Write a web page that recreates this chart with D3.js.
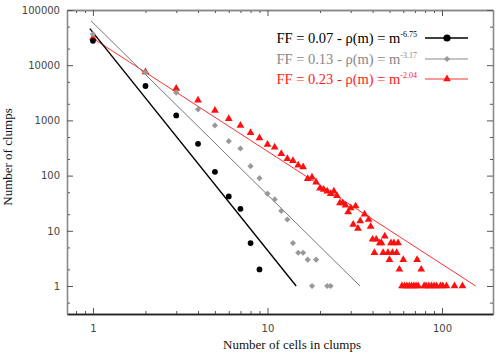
<!DOCTYPE html>
<html>
<head>
<meta charset="utf-8">
<script src="https://cdn.jsdelivr.net/npm/d3@7"></script>
<style>
  body { margin: 0; background: #fff; }
  .tick text { font-family: "DejaVu Sans", sans-serif; font-size: 10px; fill: #444; }
  .title { font-family: "Liberation Serif", "Times New Roman", serif; font-size: 13px; fill: #111; }
  .legend { font-family: "Liberation Serif", "Times New Roman", serif; font-size: 14.5px; }
</style>
</head>
<body>
<div id="chart"></div>
<script>
// cluster size distributions (cells per clump -> number of clumps)
var ff07x = [1, 2, 3, 4, 5, 6, 7, 8, 9];
var ff07y = [27600, 4200, 1230, 377, 117, 42, 25, 6, 2];

var ff13x = [1, 2, 3, 4, 5, 6, 7, 8, 9, 10, 11, 12, 13, 14, 15, 16, 17, 18, 19, 22, 23];
var ff13y = [36500, 7400, 3190, 1585, 811, 420, 310, 148, 90, 47, 37, 23, 16, 6, 4, 4, 3, 1, 3, 1, 1];

var ff23x = [1, 2, 3, 4, 5, 6, 7, 8, 9, 10, 11, 12, 13, 14, 15, 16, 17, 18, 19, 20,
             21, 22, 23, 24, 25, 26, 27, 28, 29, 30, 31, 32, 33, 34, 36, 38, 39, 40, 41, 42,
             44, 45, 46, 47, 49, 50, 51, 52, 53, 55, 56, 57, 59, 60, 61, 63, 65, 67, 69, 71,
             72, 73, 76, 79, 81, 84, 87, 90, 93, 98, 101, 106, 118, 131];
var ff23y = [31000, 7550, 3770, 2310, 1515, 1070, 811, 597, 480, 366, 327, 248, 202, 186, 154, 143, 88, 93, 76, 59,
             56, 52, 47, 52, 43, 32, 32, 29, 22, 26, 13, 28, 11, 15, 20, 16, 12, 7, 4, 7,
             6, 6, 4, 8, 4, 3, 6, 4, 6, 4, 6, 2, 1, 3, 1, 1, 1, 1, 1, 1,
             3, 1, 2, 1, 1, 1, 1, 1, 1, 1, 1, 1, 1, 1];

// power-law fit lines, start and end points [x, y]
var fit07 = [[0.96, 46000], [14.6, 1.0]];
var fit13 = [[0.974, 63800], [33.9, 1.0]];
var fit23 = [[0.974, 32300], [156, 1.0]];

var labels07 = ["FF = 0.07 - ρ(m) = m", "-6.75"];
var labels13 = ["FF = 0.13 - ρ(m) = m", "-3.17"];
var labels23 = ["FF = 0.23 - ρ(m) = m", "-2.04"];

var xMajor = [1, 10, 100];
var yMajor = [1, 10, 100, 1000, 10000, 100000];

var width = 501;
var height = 357;
var margin = {top: 10, right: 8, bottom: 43, left: 67};
var w = width - margin.left - margin.right;
var h = height - margin.top - margin.bottom;

var svg = d3.select("#chart").append("svg")
    .attr("width", width)
    .attr("height", height)
  .append("g")
    .attr("transform", "translate(" + margin.left + "," + margin.top + ")");

var x = d3.scaleLog()
    .domain([0.71, 196])
    .range([0, w]);

var y = d3.scaleLog()
    .domain([0.311, 100000])
    .range([h, 0]);

// minor ticks
var xMinor = [];
[0.1, 1, 10, 100].forEach(function(d) {
  for (var k = 2; k <= 9; k++) {
    var v = d * k;
    if (v > x.domain()[0] && v < x.domain()[1]) xMinor.push(v);
  }
});
var yMinor = [];
[0.1, 1, 10, 100, 1000, 10000].forEach(function(d) {
  [2, 5].forEach(function(k) {
    var v = d * k;
    if (v > y.domain()[0] && v < y.domain()[1]) yMinor.push(v);
  });
});

function styleAxis(g, col) {
  g.select(".domain").attr("stroke", col).attr("stroke-width", 1.3);
  g.selectAll(".tick line").attr("stroke", "#555");
}

// minor tick axes
svg.append("g").attr("transform", "translate(0," + h + ")")
    .call(d3.axisBottom(x).tickValues(xMinor).tickSize(-3).tickFormat("").tickSizeOuter(0))
    .call(styleAxis, "#222");
svg.append("g")
    .call(d3.axisTop(x).tickValues(xMinor).tickSize(-3).tickFormat("").tickSizeOuter(0))
    .call(styleAxis, "#888");
svg.append("g")
    .call(d3.axisLeft(y).tickValues(yMinor).tickSize(-3).tickFormat("").tickSizeOuter(0))
    .call(styleAxis, "#888");
svg.append("g").attr("transform", "translate(" + w + ",0)")
    .call(d3.axisRight(y).tickValues(yMinor).tickSize(-3).tickFormat("").tickSizeOuter(0))
    .call(styleAxis, "#888");

// major tick axes
svg.append("g").attr("transform", "translate(0," + h + ")")
    .call(d3.axisBottom(x).tickValues(xMajor).tickSize(-6).tickPadding(11)
      .tickFormat(d3.format("d")).tickSizeOuter(0))
    .call(styleAxis, "#222");
svg.append("g")
    .call(d3.axisTop(x).tickValues(xMajor).tickSize(-6).tickFormat("").tickSizeOuter(0))
    .call(styleAxis, "#888");
svg.append("g")
    .call(d3.axisLeft(y).tickValues(yMajor).tickSize(-6).tickPadding(7)
      .tickFormat(d3.format("d")).tickSizeOuter(0))
    .call(styleAxis, "#888");
svg.append("g").attr("transform", "translate(" + w + ",0)")
    .call(d3.axisRight(y).tickValues(yMajor).tickSize(-6).tickFormat("").tickSizeOuter(0))
    .call(styleAxis, "#888");

// axis titles
svg.append("text")
    .attr("class", "title")
    .attr("x", 292 - margin.left)
    .attr("y", 349 - margin.top)
    .style("text-anchor", "middle")
    .text("Number of cells in clumps");

svg.append("text")
    .attr("class", "title")
    .attr("transform", "rotate(-90)")
    .attr("x", -(157 - margin.top))
    .attr("y", 12 - margin.left)
    .style("text-anchor", "middle")
    .text("Number of clumps");

// fit lines
var line = d3.line()
    .x(function(d) { return x(d[0]); })
    .y(function(d) { return y(d[1]); });

svg.append("path").datum(fit23).attr("d", line)
    .attr("fill", "none").attr("stroke", "#ff3030").attr("stroke-width", 1);
svg.append("path").datum(fit13).attr("d", line)
    .attr("fill", "none").attr("stroke", "#777").attr("stroke-width", 1);
svg.append("path").datum(fit07).attr("d", line)
    .attr("fill", "none").attr("stroke", "#000").attr("stroke-width", 1.4);

var triangle = d3.symbol().type(d3.symbolTriangle).size(26);
var diamond = d3.symbol().type(d3.symbolSquare).size(19); // rotated 45deg below

function drawTriangles(g, xs, ys) {
  g.selectAll(null).data(xs).enter().append("path")
      .attr("d", triangle)
      .attr("transform", function(d, i) { return "translate(" + x(d) + "," + y(ys[i]) + ")"; })
      .attr("fill", "#ff1010");
}
function drawDiamonds(g, xs, ys) {
  g.selectAll(null).data(xs).enter().append("path")
      .attr("d", diamond)
      .attr("transform", function(d, i) { return "translate(" + x(d) + "," + y(ys[i]) + ") rotate(45)"; })
      .attr("fill", "#999");
}
function drawCircles(g, xs, ys) {
  g.selectAll(null).data(xs).enter().append("circle")
      .attr("cx", function(d) { return x(d); })
      .attr("cy", function(d, i) { return y(ys[i]); })
      .attr("r", 2.9)
      .attr("fill", "#000");
}

drawTriangles(svg.append("g"), ff23x, ff23y);
drawDiamonds(svg.append("g"), ff13x, ff13y);
drawCircles(svg.append("g"), ff07x, ff07y);

// legend
var legend = svg.append("g").attr("transform", "translate(" + (-margin.left) + "," + (-margin.top) + ")");
var entries = [
  {t: labels07, col: "#000", lineCol: "#000", ly: 38},
  {t: labels13, col: "#888", lineCol: "#888", ly: 59},
  {t: labels23, col: "#ff1a1a", lineCol: "#ff3030", ly: 79}
];
entries.forEach(function(e, i) {
  var t = legend.append("text")
      .attr("class", "legend")
      .attr("x", 417)
      .attr("y", e.ly + 4.5)
      .attr("fill", e.col)
      .style("text-anchor", "end");
  t.append("tspan").text(e.t[0]);
  t.append("tspan").attr("dy", -6).style("font-size", "8px").text(e.t[1]);
  legend.append("line")
      .attr("x1", 425).attr("x2", 468)
      .attr("y1", e.ly).attr("y2", e.ly)
      .attr("stroke", e.lineCol).attr("stroke-width", i === 0 ? 1.4 : 1);
});
legend.append("circle").attr("cx", 447).attr("cy", 38).attr("r", 3.6).attr("fill", "#000");
legend.append("path").attr("d", diamond).attr("transform", "translate(447,59) rotate(45)").attr("fill", "#999");
legend.append("path").attr("d", triangle).attr("transform", "translate(447,79)").attr("fill", "#ff1010");
</script>
</body>
</html>
